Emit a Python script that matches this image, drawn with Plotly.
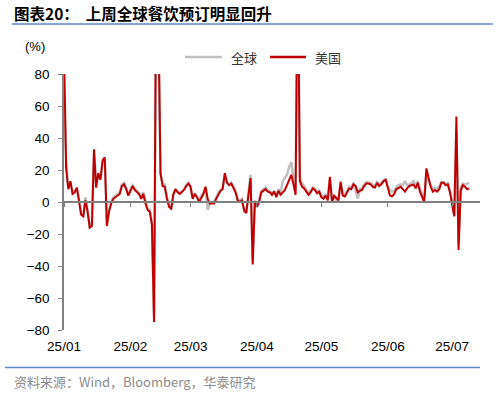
import plotly.graph_objects as go
import pandas as pd

# ---- data (daily, %, starting 2025-01-01) ----
start_date = "2025-01-01"
us = [95, 21, 8, 13, 5, 6, 9, 1, -8, -9,
      1, -6, -16, -15, 33, 9, 18, 14, 26, 28,
      -15, -6, -1, 2, 3, 4, 5, 10, 11, 8,
      4, 7, 10, 7.5, 6, 5, 2, 5, -1, -5,
      -6, -14, -75, 150, 120, 18, 10, 9.5, 2, -3,
      -4, 5, 8, 6, 5, 6, 7.5, 10, 11.5, 9.5,
      2, 5, 3, 0, 3, 5, 9.5, 2, -1, -1,
      -1, 2, 5, 7, 8, 18, 12, 10.5, 11.5, 9,
      6, 1, 0, 1, -5, -7, 3, 15, -39, 0,
      -3, 0, 6, 7, 8, 6.5, 6, 4.5, 6.5, 3,
      7, 4.5, 6, 7.5, 10.5, 13.5, 17, 11, 4.5, 160,
      13, 9.6, 8.5, 6.5, 4.5, 6, 8.5, 7.5, 5.5, 6.5,
      3, 2, 4, 1, 15.8, 0, 4, 2.5, 1, 12.7,
      4, 3.5, 6, 8.5, 8, 11, 10, 6, 7, 7.5,
      10, 11.5, 11.5, 11, 9.5, 9, 12, 10, 11, 13,
      14, 8, 4, 3.5, 5, 8, 9, 9.5, 8, 6.5,
      8.5, 10, 10.5, 11, 8.5, 12, 6.5, 3, 0, 21,
      14, 9.5, 6.5, 7.5, 6.5, 8, 12, 12, 10.5, 11,
      6, -1, -9, 53.5, -30, 7, 10.5, 9.5, 8, 8.5]
world = [70, 25, 9, 12, 6, 7, 8, 2, -7, -8,
         3, -5, -15, -14, 30, 11, 17, 14, 25, 27,
         -14, -5, 0, 3, 4, 5, 6, 11, 12, 9,
         5, 8, 10.5, 8.5, 7, 6, 4, 6, 0, -4,
         -5, -13, -72, 120, 100, 18, 11, 11, 3, -2,
         -5, 4, 8, 7, 6, 6.5, 8, 10.5, 12, 10,
         3, 5.5, 3.5, 1, 4, 5.5, 9, -5, -1, 0,
         0, 3, 6, 7.5, 9, 17, 12.5, 11, 12, 10,
         7, 2, 1, 2, -6, -6, 4, 17, -36, 1,
         -2, 1, 7, 8, 9, 7, 7, 5, 7, 4,
         8, 6, 13, 15, 17, 22, 25, 15, 6, 140,
         15, 11.5, 10, 7.5, 5.5, 7, 9, 8.5, 6.5, 7,
         4, 3, 5, 2, 14, 1, 3, 1, 1.5, 11.5,
         5, 4.5, 7, 9.5, 9, 12, 7, 2, 8, 8.5,
         11, 12.5, 12, 12, 10.5, 10, 12.5, 11, 12, 13.5,
         14, 10, 7.5, 6.5, 7, 9.5, 10.5, 11, 10.5, 13,
         10.5, 11, 12, 13, 10.5, 13, 8.5, 5, 2, 18,
         13, 10.5, 8.5, 9, 8.5, 10, 12.5, 12.5, 11.5, 11.5,
         7, 0, -8, 45, -26, 9, 11.5, 11, 11.5, 12]
series_names = ["全球", "美国"]
series_colors = ["#BFBFBF", "#C00000"]
tick_dates = ["2025-01-01", "2025-02-01", "2025-03-01", "2025-04-01",
              "2025-05-01", "2025-06-01", "2025-07-01"]
tick_labels = ["25/01", "25/02", "25/03", "25/04", "25/05", "25/06", "25/07"]
y_ticks = [80, 60, 40, 20, 0, -20, -40, -60, -80]

dates = pd.date_range(start_date, periods=len(us), freq="D")

# ---- layout geometry (pixels) ----
W, H = 499, 393
L, R, T, B = 64, 480, 74, 330


def px(x):
    return (x - L) / (R - L)


def py(y):
    return (B - y) / (B - T)


FONT = "Liberation Sans, Arial, sans-serif"
CJK = "Noto Sans CJK SC, sans-serif"
AXIS_GREY = "#808080"

fig = go.Figure()
fig.add_trace(go.Scatter(x=dates, y=world, name=series_names[0], mode="lines",
                         line=dict(color=series_colors[0], width=2.5)))
fig.add_trace(go.Scatter(x=dates, y=us, name=series_names[1], mode="lines",
                         line=dict(color=series_colors[1], width=2)))
# dummy trace to carry the zero-crossing axis
fig.add_trace(go.Scatter(x=[dates[0]], y=[None], xaxis="x2", showlegend=False,
                         hoverinfo="skip", mode="lines"))

x_range = ["2025-01-01", "2025-07-14"]
fig.update_layout(
    width=W, height=H,
    margin=dict(l=L, r=W - R, t=T, b=H - B),
    paper_bgcolor="white", plot_bgcolor="white",
    showlegend=False,
    xaxis=dict(type="date", range=x_range, tickvals=tick_dates, ticktext=tick_labels,
               showline=False, ticks="", showgrid=False, zeroline=False,
               tickfont=dict(family=FONT, size=13.5, color="#000000"),
               ticklabelstandoff=6),
    xaxis2=dict(type="date", range=x_range, overlaying="x", anchor="free", position=py(202),
                tickvals=tick_dates, showticklabels=False, showline=True,
                linecolor=AXIS_GREY, linewidth=1.5, ticks="outside", ticklen=4,
                tickcolor=AXIS_GREY, tickwidth=1.2, showgrid=False, zeroline=False),
    yaxis=dict(range=[-80, 80], tickvals=y_ticks, showgrid=False, zeroline=False,
               showline=True, linecolor=AXIS_GREY, linewidth=1.5, ticks="outside",
               ticklen=4, tickcolor=AXIS_GREY, tickwidth=1.2,
               tickfont=dict(family=FONT, size=13.5, color="#000000"),
               ticklabelstandoff=6),
)

# legend drawn by hand to match the reference sample lengths
legend_items = [(185, 222, 229), (270, 306, 313)]
for (x0, x1, xt), name, color in zip(legend_items, series_names, series_colors):
    fig.add_shape(type="line", xref="paper", yref="paper", x0=px(x0), x1=px(x1),
                  y0=py(57), y1=py(57), line=dict(color=color, width=2.5))
    fig.add_annotation(x=px(xt), y=py(57), xref="paper", yref="paper", xanchor="left",
                       yanchor="middle", text=name, showarrow=False,
                       font=dict(family=CJK, size=13, color="#333333"))

# title, unit, source
fig.add_annotation(x=px(12), y=py(13), xref="paper", yref="paper", xanchor="left", yanchor="middle",
                   text="<b>图表20：  上周全球餐饮预订明显回升</b>", showarrow=False,
                   font=dict(family=CJK, size=15.5, color="#000000"))
fig.add_annotation(x=px(35), y=py(46), xref="paper", yref="paper", xanchor="center", yanchor="middle",
                   text="(%)", showarrow=False, font=dict(family=FONT, size=13, color="#000000"))
fig.add_annotation(x=px(12), y=py(381), xref="paper", yref="paper", xanchor="left", yanchor="middle",
                   text="资料来源：Wind，Bloomberg，华泰研究", showarrow=False,
                   font=dict(family=CJK, size=13, color="#8C8C8C"))

# blue rules
fig.add_shape(type="line", xref="paper", yref="paper", x0=px(12), x1=px(493), y0=py(24), y1=py(24),
              line=dict(color="#5B8AC6", width=1.3))
fig.add_shape(type="line", xref="paper", yref="paper", x0=px(5), x1=px(480), y0=py(367.5), y1=py(367.5),
              line=dict(color="#5B8AC6", width=1.3))

fig.write_html("out.html")
